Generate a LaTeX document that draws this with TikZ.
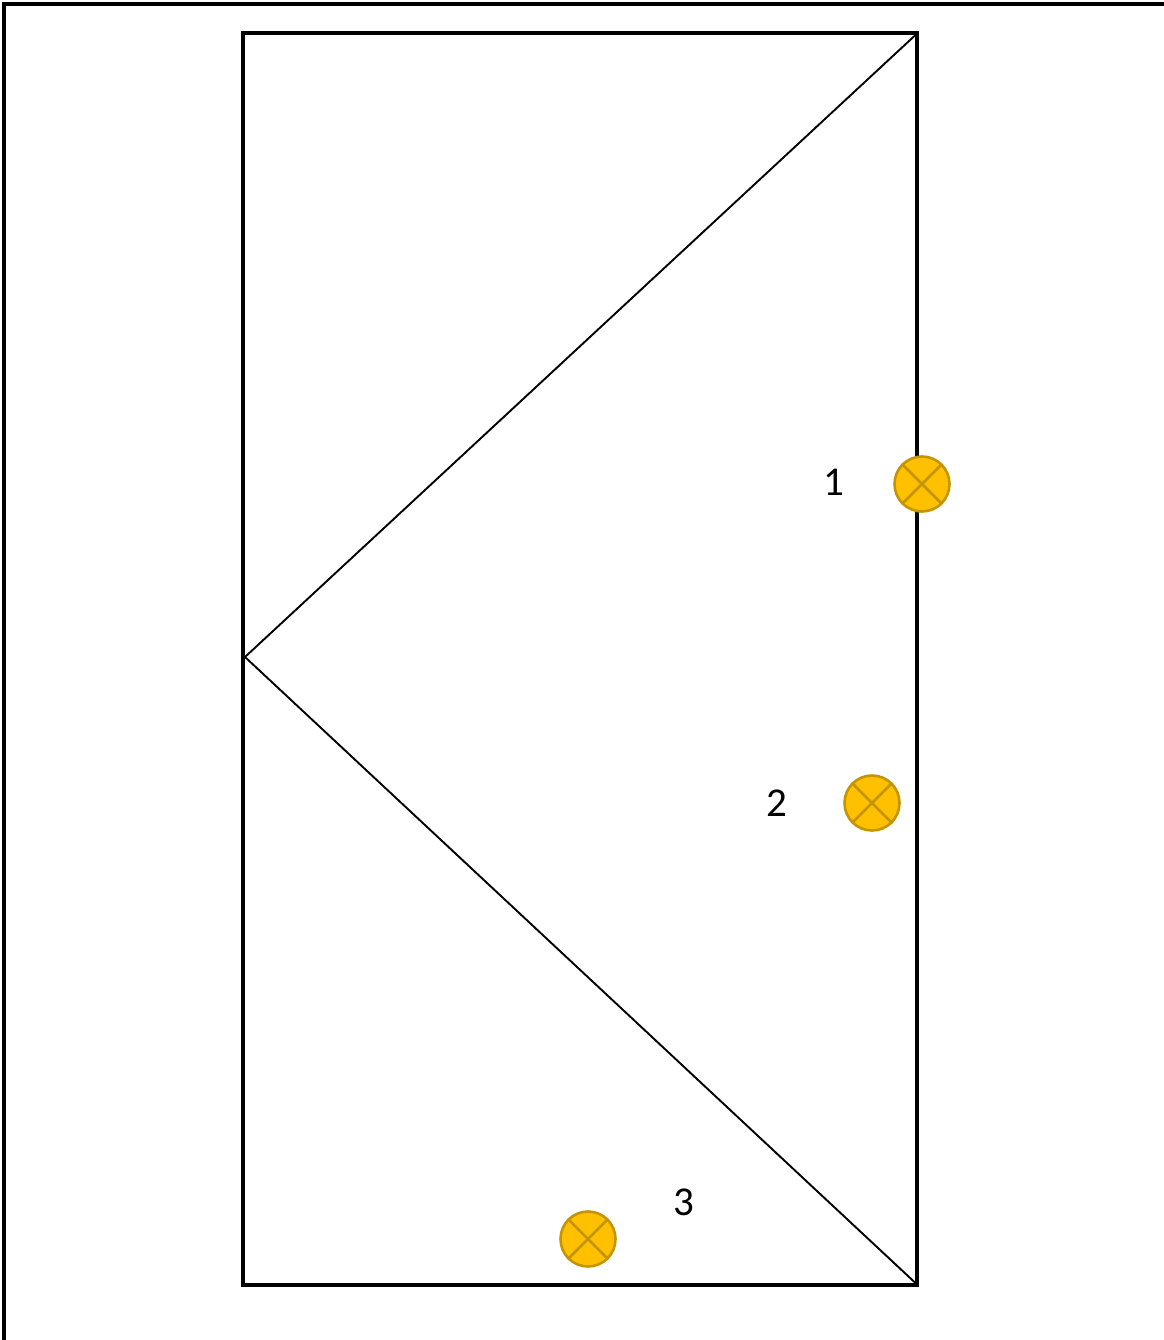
\documentclass[tikz,border=0pt]{standalone}
\usepackage{fontspec}
\setmainfont{Carlito}
\definecolor{lampfill}{HTML}{FFC000}
\definecolor{lampdraw}{HTML}{C49500}
\tikzset{
  lamp/.style={circle, draw=lampdraw, fill=lampfill, line width=2.6pt, minimum size=55pt, inner sep=0pt},
  lampx/.style={draw=lampdraw, line width=2.6pt},
  lbl/.style={font=\fontsize{41}{41}\selectfont, inner sep=0pt}
}
\newcommand{\lampcross}[1]{\draw[lampx] (#1.north west) -- (#1.south east); \draw[lampx] (#1.north east) -- (#1.south west);}
\begin{document}
\begin{tikzpicture}[x=1pt,y=-1pt]
\useasboundingbox (0,0) rectangle (1163,1340);
% outer frame
\draw[line width=3.5pt] (4,1345) -- (4,4) -- (1170,4);
% room
\coordinate (tl) at (243,33);
\coordinate (br) at (917,1285);
\draw[line width=3.8pt] (tl) rectangle (br);
\coordinate (tr) at (915.5,35);
\coordinate (ml) at (245,657);
\coordinate (brc) at (915.5,1283);
\draw[line width=1.9pt] (tr) -- (ml) -- (brc);
% lamps
\node[lamp] (l1) at (922,484) {};
\lampcross{l1}
\node[lamp] (l2) at (872,803) {};
\lampcross{l2}
\node[lamp] (l3) at (588,1239) {};
\lampcross{l3}
\node[lbl] (t1) at (834,482) {1};
\node[lbl] (t2) at (777,803) {2};
\node[lbl] (t3) at (684,1202) {3};
\end{tikzpicture}
\end{document}
